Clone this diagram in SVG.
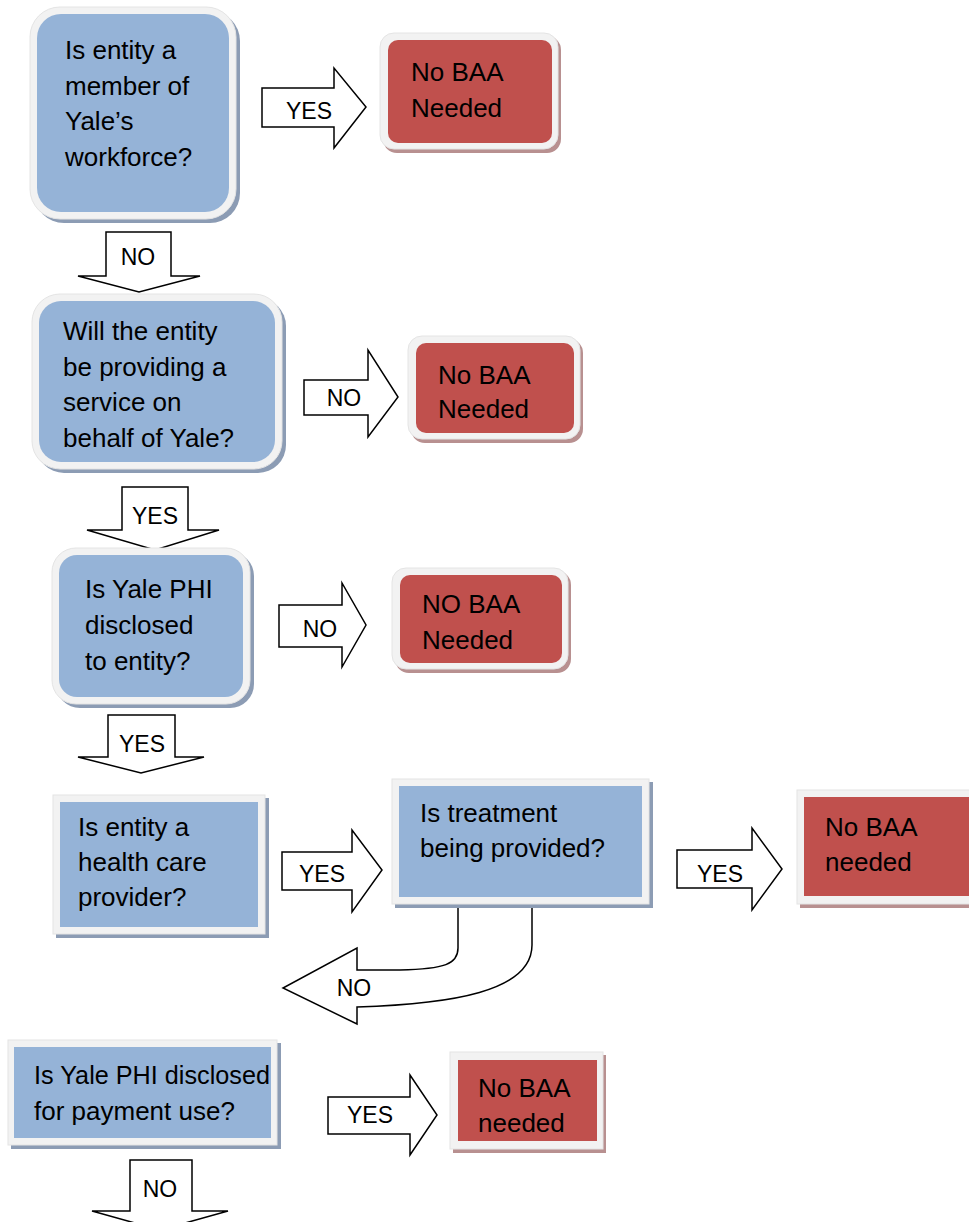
<svg xmlns="http://www.w3.org/2000/svg" width="969" height="1222" viewBox="0 0 969 1222">
<style>
text{font-family:"Liberation Sans",Arial,sans-serif;font-size:26px;fill:#000}
.lbl{font-size:23px;text-anchor:middle}
.fr{fill:#f2f2f2;stroke:#e4e4e4;stroke-width:1}
.shb{fill:#8c9cb4}
.shr{fill:#b89090}
.bl{fill:#95b3d7}
.rd{fill:#c0504d}
.ar{fill:#fff;stroke:#000;stroke-width:1.5;stroke-linejoin:miter}
</style>
<rect width="969" height="1222" fill="#fff"/>
<g id="connectors">
<path class="ar" d="M262,88 H334 V68 L366,107 L334,148 V127 H262 Z"/>
<text class="lbl" x="309" y="119">YES</text>
<path class="ar" d="M106,232 H171 V276 H200 L139,292 L78,276 H106 Z"/>
<text class="lbl" x="138" y="265">NO</text>
<path class="ar" d="M304,380 H368 V350 L398,397 L368,437 V415 H304 Z"/>
<text class="lbl" x="344" y="406">NO</text>
<path class="ar" d="M122,487 H188 V530 H219 L155,550 L87,530 H122 Z"/>
<text class="lbl" x="155" y="524">YES</text>
<path class="ar" d="M279,605 H342 V583 L366,625 L342,667 V647 H279 Z"/>
<text class="lbl" x="320" y="637">NO</text>
<path class="ar" d="M108,715 H175 V757 H204 L141,773 L78,757 H108 Z"/>
<text class="lbl" x="142" y="752">YES</text>
<path class="ar" d="M282,852 H352 V830 L382,870 L352,912 V890 H282 Z"/>
<text class="lbl" x="322" y="882">YES</text>
<path class="ar" d="M677,850 H752 V828 L782,869 L752,910 V888 H677 Z"/>
<text class="lbl" x="720" y="882">YES</text>
<path class="ar" d="M458,898 V948 C458,964 445,969 400,970 L357,970 V948 L283,988 L357,1024 V1007 C450,1004 532,992 532,945 V898"/>
<text class="lbl" x="354" y="996">NO</text>
<path class="ar" d="M130,1160 H192 V1211 H228 L160,1230 L92,1211 H130 Z"/>
<text class="lbl" x="160" y="1197">NO</text>
<path class="ar" d="M328,1097 H410 V1075 L437,1115 L410,1155 V1134 H328 Z"/>
<text class="lbl" x="370" y="1123">YES</text>
</g>
<g id="n1">
<rect class="shb" x="34" y="11" width="206" height="212" rx="30"/>
<rect class="fr" x="30" y="7" width="206" height="212" rx="30"/>
<rect class="bl" x="37" y="14" width="192" height="198" rx="24"/>
<text x="65" y="59">Is entity a</text>
<text x="65" y="95">member of</text>
<text x="65" y="130">Yale’s</text>
<text x="65" y="166">workforce?</text>
</g>
<g id="r1">
<rect class="shr" x="383" y="36" width="178" height="117" rx="14"/>
<rect class="fr" x="380" y="33" width="178" height="116" rx="14"/>
<rect class="rd" x="388" y="40" width="164" height="103" rx="10"/>
<text x="411" y="81">No BAA</text>
<text x="411" y="117">Needed</text>
</g>
<g id="n2">
<rect class="shb" x="36" y="298" width="250" height="175" rx="28"/>
<rect class="fr" x="32" y="294" width="250" height="175" rx="28"/>
<rect class="bl" x="39" y="301" width="236" height="161" rx="22"/>
<text x="63" y="340">Will the entity</text>
<text x="63" y="376">be providing a</text>
<text x="63" y="411">service on</text>
<text x="63" y="447">behalf of Yale?</text>
</g>
<g id="r2">
<rect class="shr" x="411" y="339" width="172" height="104" rx="14"/>
<rect class="fr" x="408" y="336" width="172" height="103" rx="14"/>
<rect class="rd" x="416" y="343" width="158" height="90" rx="10"/>
<text x="438" y="384">No BAA</text>
<text x="438" y="418">Needed</text>
</g>
<g id="n3">
<rect class="shb" x="56" y="552" width="198" height="156" rx="24"/>
<rect class="fr" x="52" y="548" width="198" height="156" rx="24"/>
<rect class="bl" x="59" y="555" width="184" height="142" rx="18"/>
<text x="85" y="598">Is Yale PHI</text>
<text x="85" y="634">disclosed</text>
<text x="85" y="670">to entity?</text>
</g>
<g id="r3">
<rect class="shr" x="395" y="571" width="176" height="102" rx="14"/>
<rect class="fr" x="392" y="568" width="176" height="101" rx="14"/>
<rect class="rd" x="400" y="575" width="162" height="88" rx="10"/>
<text x="422" y="613">NO BAA</text>
<text x="422" y="649">Needed</text>
</g>
<g id="n4">
<rect class="shb" x="56" y="798" width="213" height="140"/>
<rect class="fr" x="53" y="795" width="212" height="139"/>
<rect class="bl" x="60" y="802" width="198" height="125"/>
<text x="78" y="836">Is entity a</text>
<text x="78" y="871">health care</text>
<text x="78" y="906">provider?</text>
</g>
<g id="n5">
<rect class="shb" x="395" y="782" width="258" height="126"/>
<rect class="fr" x="392" y="779" width="257" height="125"/>
<rect class="bl" x="399" y="786" width="243" height="111"/>
<text x="420" y="822">Is treatment</text>
<text x="420" y="857">being provided?</text>
</g>
<g id="r5">
<rect class="shr" x="800" y="793" width="175" height="115"/>
<rect class="fr" x="797" y="790" width="175" height="114"/>
<rect class="rd" x="804" y="797" width="170" height="99"/>
<text x="825" y="836">No BAA</text>
<text x="825" y="871">needed</text>
</g>
<g id="n6">
<rect class="shb" x="11" y="1043" width="270" height="106"/>
<rect class="fr" x="8" y="1040" width="269" height="105"/>
<rect class="bl" x="14" y="1047" width="257" height="91"/>
<text x="34" y="1084" textLength="236" lengthAdjust="spacingAndGlyphs">Is Yale PHI disclosed</text>
<text x="34" y="1120">for payment use?</text>
</g>
<g id="r6">
<rect class="shr" x="453" y="1055" width="153" height="98"/>
<rect class="fr" x="450" y="1052" width="153" height="97"/>
<rect class="rd" x="458" y="1060" width="139" height="81"/>
<text x="478" y="1097">No BAA</text>
<text x="478" y="1132">needed</text>
</g>
</svg>
